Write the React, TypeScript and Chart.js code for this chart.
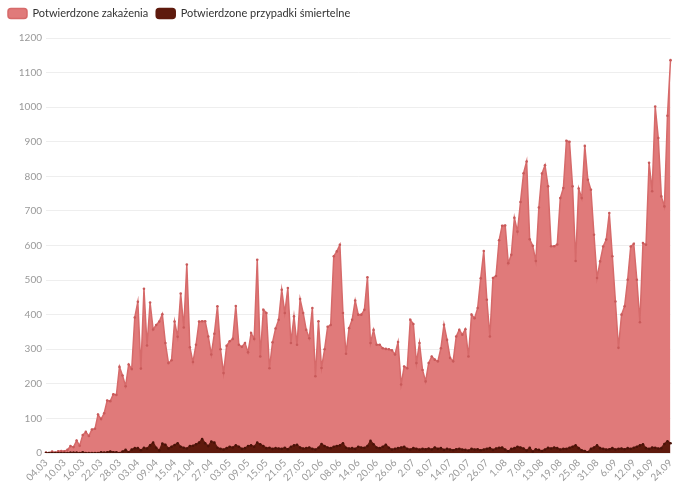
import React, { useEffect, useRef } from "react";
import { Chart, registerables } from "chart.js";

Chart.register(...registerables);

// Daily values, 04.03 → 24.09 (205 days)
const CASES: number[] = [
  1, 0, 4, 1, 5, 6, 5, 9, 20, 17,
  36, 21, 52, 61, 49, 68, 70, 111, 98, 115,
  152, 150, 170, 168, 249, 224, 193, 256, 243, 392,
  437, 244, 475, 311, 435, 357, 370, 380, 401, 318,
  260, 268, 380, 336, 461, 363, 545, 306, 263, 313,
  380, 381, 381, 337, 285, 345, 424, 300, 231, 310,
  323, 330, 425, 313, 307, 318, 291, 347, 330, 559,
  279, 414, 405, 245, 320, 360, 385, 472, 405, 477,
  318, 395, 313, 445, 405, 356, 332, 419, 222, 381,
  246, 300, 365, 370, 569, 583, 602, 405, 287, 361,
  385, 441, 400, 400, 414, 508, 318, 356, 313, 313,
  303, 301, 300, 297, 285, 321, 198, 250, 245, 385,
  373, 260, 318, 240, 207, 260, 279, 270, 265, 303,
  371, 327, 275, 265, 337, 356, 342, 358, 279, 400,
  390, 419, 505, 584, 443, 337, 506, 512, 615, 657,
  658, 549, 573, 680, 640, 726, 809, 843, 618, 599,
  555, 710, 808, 832, 771, 598, 598, 603, 737, 766,
  903, 900, 771, 555, 765, 737, 888, 790, 761, 631,
  506, 554, 597, 617, 694, 569, 438, 304, 400, 424,
  501, 597, 605, 501, 378, 607, 602, 839, 757, 1002,
  911, 742, 713, 975, 1136,
];

const DEATHS: number[] = [
  0, 0, 0, 0, 0, 0, 0, 0, 1, 1,
  1, 0, 2, 0, 0, 0, 0, 0, 2, 1,
  2, 4, 2, 2, 0, 4, 9, 2, 10, 14,
  14, 8, 15, 13, 22, 30, 15, 7, 27, 24,
  13, 18, 23, 28, 18, 15, 13, 20, 21, 25,
  30, 40, 28, 20, 33, 30, 15, 12, 10, 14,
  18, 16, 22, 18, 12, 14, 20, 22, 18, 30,
  25, 20, 14, 15, 12, 14, 13, 12, 15, 11,
  18, 22, 24, 16, 13, 14, 16, 12, 10, 15,
  26, 20, 16, 14, 18, 20, 22, 28, 15, 13,
  14, 12, 18, 16, 15, 20, 35, 25, 16, 14,
  18, 24, 15, 10, 12, 14, 16, 18, 12, 10,
  14, 12, 10, 12, 11, 13, 10, 16, 12, 14,
  9, 12, 10, 8, 11, 12, 10, 9, 7, 12,
  10, 11, 8, 10, 12, 14, 9, 13, 15, 16,
  10, 5, 12, 14, 18, 16, 13, 7, 15, 4,
  11, 9, 6, 10, 15, 13, 16, 14, 10, 12,
  12, 15, 18, 22, 14, 8, 6, 2, 12, 16,
  22, 14, 12, 10, 11, 14, 10, 12, 13, 11,
  14, 12, 15, 18, 22, 25, 14, 12, 16, 15,
  13, 14, 26, 34, 28,
];

const TICK_LABELS: string[] = [
  "04.03", "10.03", "16.03", "22.03", "28.03", "03.04", "09.04", "15.04",
  "21.04", "27.04", "03.05", "09.05", "15.05", "21.05", "27.05", "02.06",
  "08.06", "14.06", "20.06", "26.06", "2.07", "8.07", "14.07", "20.07",
  "26.07", "1.08", "7.08", "13.08", "19.08", "25.08", "31.08", "6.09",
  "12.09", "18.09", "24.09",
];
const TICK_STEP = 6;

const SERIES_NAMES = ["Potwierdzone zakażenia", "Potwierdzone przypadki śmiertelne"];

// one category per day, starting on 4 March 2020
const CATEGORIES: string[] = CASES.map((_, i) => {
  const d = new Date(Date.UTC(2020, 2, 4 + i));
  return String(d.getUTCDate()).padStart(2, "0") + "." + String(d.getUTCMonth() + 1).padStart(2, "0");
});

const legendSpacer = {
  id: "legendSpacer",
  beforeInit(chart: any) {
    const legend = chart.legend;
    if (!legend) return;
    const origFit = legend.fit;
    legend.fit = function fit() {
      origFit.call(this);
      this.height += 9;
    };
  },
};

export default function App() {
  const ref = useRef<HTMLCanvasElement | null>(null);

  useEffect(() => {
    document.body.style.margin = "0";
    const canvas = ref.current;
    if (!canvas) return;
    const chart = new Chart(canvas, {
      type: "line",
      data: {
        labels: CATEGORIES,
        datasets: [
          {
            label: SERIES_NAMES[0],
            data: CASES,
            order: 1,
            fill: "origin",
            backgroundColor: "#e07a7a",
            borderColor: "#d66a6a",
            borderWidth: 1.5,
            pointRadius: 1.3,
            pointBackgroundColor: "#c85a5a",
            pointBorderWidth: 0,
            tension: 0,
          },
          {
            label: SERIES_NAMES[1],
            data: DEATHS,
            order: 0,
            fill: "origin",
            backgroundColor: "#5e1a0d",
            borderColor: "#5e1a0d",
            borderWidth: 1.5,
            pointRadius: 1.3,
            pointBackgroundColor: "#4a1208",
            pointBorderWidth: 0,
            tension: 0,
          },
        ],
      },
      plugins: [legendSpacer],
      options: {
        animation: false,
        responsive: false,
        maintainAspectRatio: false,
        layout: { padding: { left: 0, right: 8, top: 0, bottom: 0 } },
        plugins: {
          legend: {
            position: "top",
            align: "start",
            reverse: true,
            labels: {
              boxWidth: 19,
              boxHeight: 10,
              padding: 8,
              useBorderRadius: true,
              borderRadius: 3,
              color: "#333",
              font: { family: "Lato", size: 11 },
            },
          },
          tooltip: { enabled: false },
        },
        scales: {
          x: {
            type: "category",
            offset: false,
            grid: { display: false, drawTicks: false },
            border: { display: false },
            ticks: {
              autoSkip: false,
              minRotation: 45,
              maxRotation: 45,
              padding: 4,
              color: "#999",
              font: { family: "Lato", size: 10 },
              callback: (_v: any, index: number) =>
                index % TICK_STEP === 0 ? TICK_LABELS[index / TICK_STEP] ?? "" : "",
            },
            afterFit: (scale: any) => {
              scale.height = 39;
            },
          },
          y: {
            min: 0,
            max: 1200,
            grid: { color: "#eeeeee", drawTicks: false },
            border: { display: false },
            ticks: {
              stepSize: 100,
              padding: 4,
              color: "#999",
              font: { family: "Lato", size: 10 },
              callback: (v: any) => String(v),
            },
            afterFit: (scale: any) => {
              scale.width = 46;
            },
          },
        },
      },
    });
    return () => chart.destroy();
  }, []);

  return (
    <div style={{ width: 683, height: 492 }}>
      <canvas ref={ref} width={683} height={492} style={{ display: "block" }} />
    </div>
  );
}
